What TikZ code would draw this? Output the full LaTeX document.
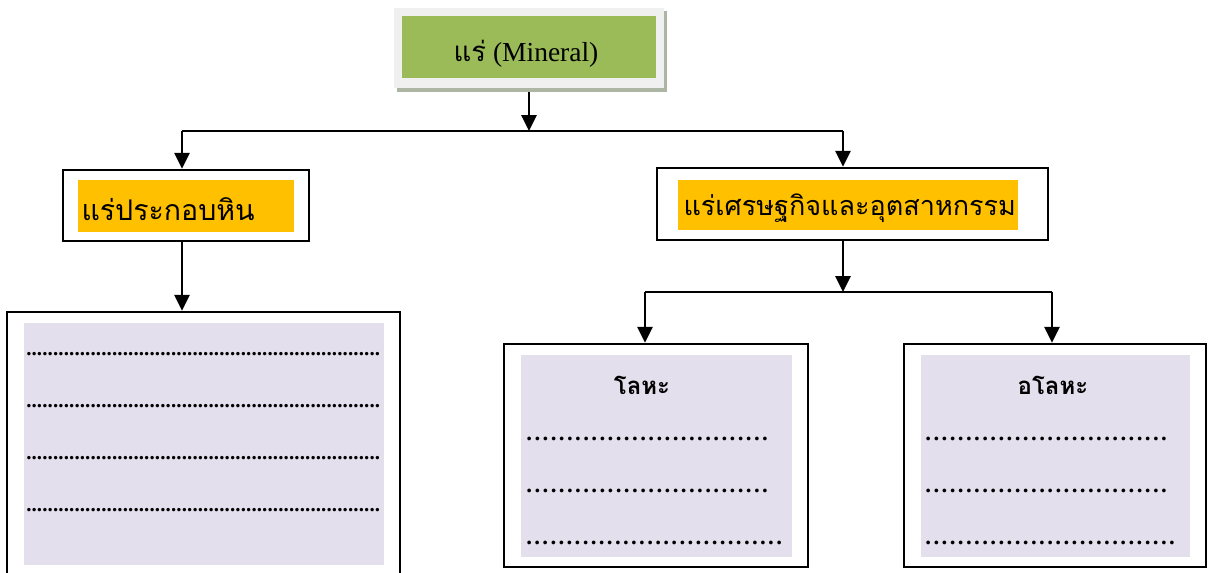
\documentclass[tikz,border=0pt]{standalone}
\usepackage{fontspec}
\setmainfont{Liberation Serif}
\newfontfamily\thaifont[Script=Thai]{Loma}
\usetikzlibrary{arrows.meta,calc}
\definecolor{mgreen}{HTML}{9BBB59}
\definecolor{morange}{HTML}{FFC000}
\definecolor{mlav}{HTML}{E4DFEC}
\definecolor{mframe}{HTML}{F0F0F0}
\definecolor{mshadow}{HTML}{ADB5A5}
\newcommand\dotrow[2]{\hbox to #1{\xleaders\hbox to #2{\hss\textbf{.}\hss}\hfill}}
\tikzset{
  conn/.style={line width=2.8pt},
  arr/.style={line width=2.8pt,-{Triangle[width=15pt,length=16pt]}},
  blackbox/.style={draw=black,line width=2.4pt,fill=white,inner sep=0pt},
  orangebox/.style={fill=morange,inner sep=0pt,anchor=west},
  lavbox/.style={fill=mlav,inner sep=0pt},
  dots/.style={anchor=west,inner sep=0pt,font=\fontsize{21}{21}\selectfont},
  bigdots/.style={anchor=west,inner sep=0pt,font=\fontsize{23}{23}\selectfont},
  thaihead/.style={font=\thaifont\fontsize{28.5}{28.5}\selectfont},
}
\begin{document}
\begin{tikzpicture}[x=1pt,y=-1pt]
\useasboundingbox (0,0) rectangle (1211,573);
\begin{scope}
\clip (0,0) rectangle (1211,573);
% top box
\fill[mshadow] (397,11) rectangle (667,92);
\node[fill=mframe,inner sep=0pt,minimum width=270pt,minimum height=80pt] (top) at (529,48) {};
\node[fill=mgreen,inner sep=0pt,minimum width=254pt,minimum height=62pt] (topin) at (529,47) {};
\node[font=\fontsize{27.5}{27.5}\selectfont,inner sep=0pt] (toptext) at (526,54) {{\thaifont แร่} (Mineral)};
% level 2 boxes
\node[blackbox,minimum width=246pt,minimum height=71pt] (lbox) at (186,205.5) {};
\node[orangebox,minimum width=216pt,minimum height=52pt] (lboxin) at (78,206) {};
\node[thaihead,anchor=west] (ltext) at (78,209) {แร่ประกอบหิน};
\node[blackbox,minimum width=391pt,minimum height=72pt] (rbox) at (852.5,204) {};
\node[orangebox,minimum width=340pt,minimum height=50pt] (rboxin) at (678,205) {};
\node[thaihead,anchor=west,font=\thaifont\fontsize{27}{27}\selectfont] (rtext) at (680,208) {แร่เศรษฐกิจและอุตสาหกรรม};
% level 3 boxes
\node[blackbox,minimum width=393pt,minimum height=280pt] (big) at (203.5,452) {};
\node[lavbox,minimum width=360pt,minimum height=242pt] (bigin) at (204,444) {};
\node[dots] (d1) at (26,354) {\dotrow{354pt}{5.36pt}};
\node[dots] (d2) at (26,406) {\dotrow{354pt}{5.36pt}};
\node[dots] (d3) at (26,458) {\dotrow{354pt}{5.36pt}};
\node[dots] (d4) at (26,510) {\dotrow{354pt}{5.36pt}};
\node[blackbox,minimum width=304pt,minimum height=223pt] (mbox) at (656,455.5) {};
\node[lavbox,minimum width=271pt,minimum height=202pt] (mboxin) at (656.5,456) {};
\node[font=\thaifont\bfseries\fontsize{24}{24}\selectfont] (mhead) at (642,385) {โลหะ};
\node[bigdots] (m1) at (525,439) {\dotrow{244pt}{8.1pt}};
\node[bigdots] (m2) at (525,491) {\dotrow{244pt}{8.1pt}};
\node[bigdots] (m3) at (525,543) {\dotrow{258pt}{8.0pt}};
\node[blackbox,minimum width=302pt,minimum height=223pt] (nbox) at (1055,455.5) {};
\node[lavbox,minimum width=269pt,minimum height=202pt] (nboxin) at (1055.5,456) {};
\node[font=\thaifont\bfseries\fontsize{24}{24}\selectfont] (nhead) at (1053,385) {อโลหะ};
\node[bigdots] (n1) at (924,439) {\dotrow{244pt}{8.1pt}};
\node[bigdots] (n2) at (924,491) {\dotrow{244pt}{8.1pt}};
\node[bigdots] (n3) at (924,543) {\dotrow{252pt}{8.1pt}};
\end{scope}
% connectors
\coordinate (j1) at (529,131);
\coordinate (jl) at (182,131);
\coordinate (jr) at (843,131);
\draw[arr] (529,92) -- (j1);
\draw[conn] (jl) -- (jr);
\draw[arr] (jl) -- (jl |- lbox.north);
\draw[arr] (jr) -- (jr |- rbox.north);
\draw[arr] (jl |- lbox.south) -- (jl |- big.north);
\coordinate (j2) at (843,292);
\coordinate (j2l) at (645,292);
\coordinate (j2r) at (1052,292);
\draw[arr] (jr |- rbox.south) -- (j2);
\draw[conn] (j2l) -- (j2r);
\draw[arr] (j2l) -- (j2l |- mbox.north);
\draw[arr] (j2r) -- (j2r |- nbox.north);
\end{tikzpicture}
\end{document}
